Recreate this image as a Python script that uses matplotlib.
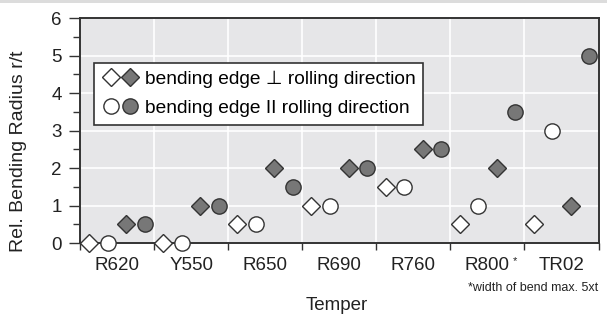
import matplotlib
matplotlib.use("Agg")
import matplotlib.pyplot as plt
from matplotlib.legend_handler import HandlerTuple
from matplotlib.lines import Line2D
from matplotlib.patches import Rectangle
import numpy as np

plt.rcParams['font.family'] = ['Liberation Sans', 'DejaVu Sans']

tempers = ["R620", "Y550", "R650", "R690", "R760", "R800", "TR02"]
perp_soft = [0, 0, 0.5, 1, 1.5, 0.5, 0.5]      # open diamonds
par_soft = [0, 0, 0.5, 1, 1.5, 1, 3]           # open circles
perp_hard = [0.5, 1, 2, 2, 2.5, 2, 1]          # filled diamonds
par_hard = [0.5, 1, 1.5, 2, 2.5, 3.5, 5]       # filled circles

edge = "#333333"
fill = "#777777"
txt = "#222222"
dms = 9.5
cms = 11

fig = plt.figure(figsize=(6.07, 3.18), dpi=100)
ax = fig.add_axes([80/607, 1 - 243/318, 518.5/607, 225/318])
ax.set_facecolor("#e6e6e8")

# grey strip at the top of the picture
fig.patches.append(Rectangle((0, 1 - 3/318), 1, 3/318, transform=fig.transFigure,
                             facecolor="#dcdcdc", edgecolor="none"))

x = np.arange(len(tempers))
ax.plot(x + 0.125, perp_soft, "D", ms=dms, mfc="white", mec=edge, mew=1, clip_on=False, zorder=3)
ax.plot(x + 0.375, par_soft, "o", ms=cms, mfc="white", mec=edge, mew=1, clip_on=False, zorder=3)
ax.plot(x + 0.625, perp_hard, "D", ms=dms, mfc=fill, mec=edge, mew=1, clip_on=False, zorder=3)
ax.plot(x + 0.875, par_hard, "o", ms=cms, mfc=fill, mec=edge, mew=1, clip_on=False, zorder=3)

ax.set_xlim(0, len(tempers))
ax.set_ylim(0, 6)
ax.set_xticks(np.arange(len(tempers) + 1))
ax.set_xticklabels([])
ax.set_xticks(x + 0.5, minor=True)
ax.set_xticklabels(tempers, minor=True)
ax.tick_params(axis="x", which="minor", length=0, pad=10, labelsize=13.5, labelcolor=txt)
ax.tick_params(axis="x", which="major", length=5, width=1, color=edge, direction="out")
ax.set_yticks(range(7))
ax.set_yticks(np.arange(0.5, 6, 1), minor=True)
ax.tick_params(axis="y", which="major", length=8, width=1, color=edge, labelsize=13.5,
               labelcolor=txt, pad=5)
ax.tick_params(axis="y", which="minor", length=5, width=1, color=edge)
ax.grid(True, which="major", color="white", lw=1.2)
ax.set_axisbelow(True)
for s in ax.spines.values():
    s.set_color(edge)
    s.set_linewidth(1.4)

# asterisk next to R800
ax.annotate("*", xy=(5.5, 0), xycoords="data", xytext=(20, -13), textcoords="offset points",
            ha="center", va="center", fontsize=8, color=txt, annotation_clip=False)

ax.set_ylabel("Rel. Bending Radius r/t", fontsize=14, color=txt)
ax.yaxis.set_label_coords(-0.102, 0.41)
fig.text(337/607, 1 - 306/318, "Temper", ha="center", va="center", fontsize=13.5, color=txt)
fig.text(598/607, 1 - 288/318, "*width of bend max. 5xt", ha="right", va="center",
         fontsize=9, color=txt)

h1 = (Line2D([], [], ls="none", marker="D", ms=dms, mfc="white", mec=edge),
      Line2D([], [], ls="none", marker="D", ms=dms, mfc=fill, mec=edge))
h2 = (Line2D([], [], ls="none", marker="o", ms=cms, mfc="white", mec=edge),
      Line2D([], [], ls="none", marker="o", ms=cms, mfc=fill, mec=edge))
leg = ax.legend([h1, h2], ["bending edge \u22a5 rolling direction", "bending edge II rolling direction"],
                handler_map={tuple: HandlerTuple(ndivide=None, pad=0.0)},
                loc="upper left", bbox_to_anchor=(14/518.5, 180/225), fontsize=13.8,
                frameon=True, fancybox=False, edgecolor=edge, framealpha=1,
                handlelength=2.0, handletextpad=0.25, borderpad=0.4, labelspacing=0.6,
                borderaxespad=0)
leg.get_frame().set_linewidth(1.2)

fig.savefig("out.png", dpi=100)
